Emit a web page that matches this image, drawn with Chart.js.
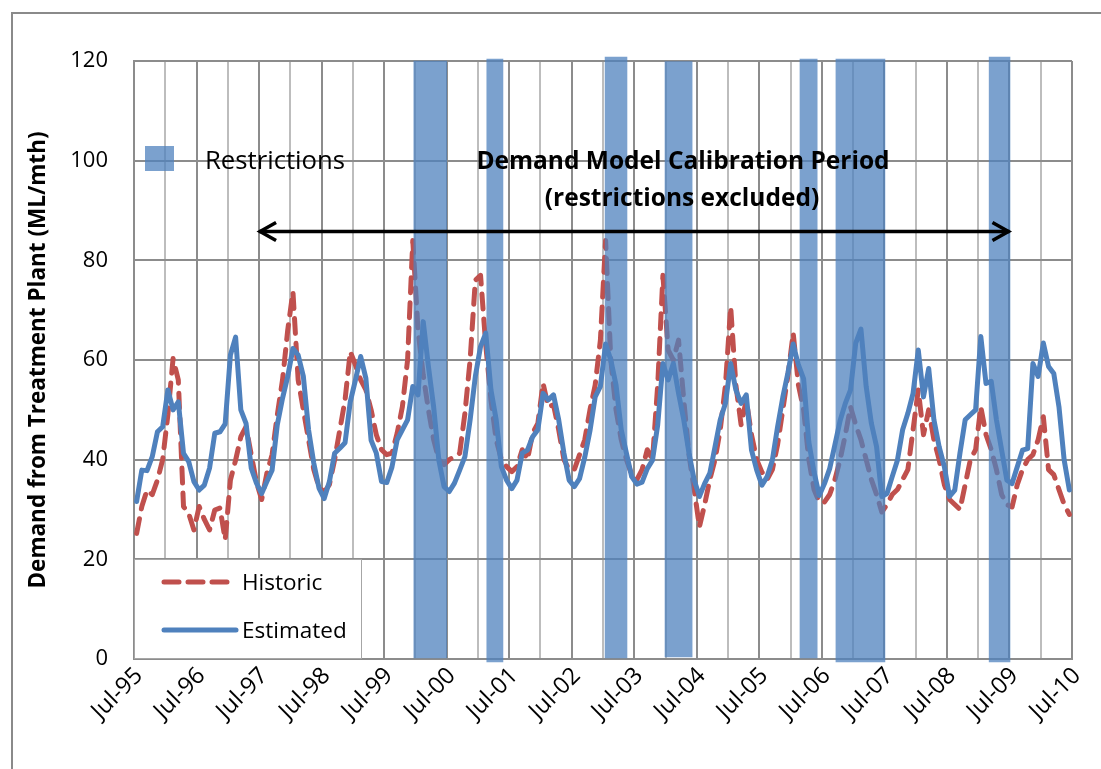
<!DOCTYPE html>
<html>
<head>
<meta charset="utf-8">
<title>Demand Model Calibration</title>
<script src="https://cdn.jsdelivr.net/npm/chart.js@4.4.1/dist/chart.umd.min.js"></script>
<style>
  html, body { margin: 0; padding: 0; background: #fff; }
  #wrap { position: relative; width: 1101px; height: 769px; overflow: hidden; font-family: "Open Sans", sans-serif; }
  #chart { position: absolute; left: 0; top: 0; }
  #frame { position: absolute; left: 11px; top: 12px; width: 1300px; height: 1000px; border: 2px solid #8a8a8a; box-sizing: border-box; pointer-events: none; }
  .txt { position: absolute; white-space: nowrap; color: #000; line-height: 1; }
  .swatch { position: absolute; }
  #lineLegend { position: absolute; left: 134px; top: 559px; width: 228px; height: 100px; background: #fff; border: 1.5px solid #a6a6a6; box-sizing: border-box; }
</style>
</head>
<body>
<div id="wrap">
  <canvas id="chart" width="1101" height="769"></canvas>
  <div id="frame"></div>

  <div class="swatch" style="left:145px;top:146px;width:29px;height:25px;background:rgba(79,129,189,0.75)"></div>
  <div class="txt" style="left:205px;top:160px;font-size:25.7px;transform:translateY(-50%)">Restrictions</div>

  <div class="txt" style="left:683px;top:160px;font-size:24.5px;font-weight:bold;transform:translate(-50%,-50%)">Demand Model Calibration Period</div>
  <div class="txt" style="left:682px;top:197px;font-size:24.5px;font-weight:bold;transform:translate(-50%,-50%)">(restrictions excluded)</div>

  <div id="lineLegend"></div>
  <svg class="swatch" style="left:158px;top:574px" width="80" height="16">
    <line x1="6" y1="8" x2="70" y2="8" stroke="#C0504D" stroke-width="5" stroke-dasharray="15 9" stroke-linecap="round"/>
  </svg>
  <div class="txt" style="left:242px;top:582px;font-size:22.5px;transform:translateY(-50%)">Historic</div>
  <svg class="swatch" style="left:158px;top:622px" width="84" height="16">
    <line x1="6" y1="8" x2="78" y2="8" stroke="#4F81BD" stroke-width="5" stroke-linecap="round"/>
  </svg>
  <div class="txt" style="left:242px;top:630px;font-size:22.5px;transform:translateY(-50%)">Estimated</div>
</div>

<script>
// x axis: months counted from Jul-95; one point per month, plotted mid-month
var tickLabels = ['Jul-95','Jul-96','Jul-97','Jul-98','Jul-99','Jul-00','Jul-01','Jul-02',
                  'Jul-03','Jul-04','Jul-05','Jul-06','Jul-07','Jul-08','Jul-09','Jul-10'];
var yTicks = [0, 20, 40, 60, 80, 100, 120];

// Historic demand (ML/mth), Jul-95 .. Jun-10
var historic = [
  25.2, 30.6, 33.9, 33.0, 35.9, 40.0, 49.0, 60.3, 56.0, 30.6,
  29.2, 25.9, 30.6, 28.0, 25.9, 29.9, 30.3, 23.9, 35.9, 39.9,
  44.6, 46.6, 41.0, 35.5, 32.0, 37.3, 41.0, 49.0, 56.0, 66.0,
  73.7, 56.0, 50.0, 44.0, 38.0, 34.5, 33.5, 35.0, 40.0, 46.0,
  52.0, 61.7, 59.0, 56.0, 54.0, 50.0, 45.0, 42.0, 41.0, 41.3,
  45.3, 50.6, 60.0, 84.0, 66.0, 57.0, 50.0, 44.0, 40.0, 39.0,
  40.0, 40.6, 41.3, 49.3, 60.0, 76.0, 77.0, 63.0, 52.0, 44.0,
  40.0, 38.6, 37.6, 38.6, 42.0, 40.0, 45.3, 47.3, 55.3, 50.6,
  51.0, 46.0, 40.0, 38.0, 38.0, 41.0, 44.0, 50.0, 55.0, 64.0,
  84.0, 60.0, 50.0, 44.0, 40.0, 37.0, 36.0, 38.0, 42.0, 40.0,
  55.0, 77.0, 62.0, 60.0, 64.0, 52.0, 41.0, 34.0, 26.5, 31.0,
  36.0, 40.0, 46.0, 55.0, 70.7, 55.0, 47.0, 52.0, 45.0, 40.0,
  37.5, 36.0, 38.0, 43.0, 50.0, 57.0, 65.4, 55.0, 50.0, 40.0,
  34.0, 31.5, 31.5, 33.0, 36.0, 40.0, 45.0, 50.6, 47.0, 44.0,
  40.0, 36.0, 33.0, 29.5, 31.0, 33.0, 34.0, 36.0, 38.0, 46.0,
  54.0, 45.0, 50.0, 44.0, 40.0, 35.0, 32.0, 31.0, 30.0, 35.0,
  40.0, 42.0, 50.6, 45.0, 42.0, 38.0, 33.0, 31.0, 30.5, 35.0,
  38.0, 40.0, 41.0, 44.0, 48.6, 38.0, 37.0, 34.0, 31.0, 29.0
];

// Estimated demand (ML/mth), Jul-95 .. Jun-10
var estimated = [
  31.6, 37.9, 37.8, 40.6, 45.6, 46.6, 54.0, 50.0, 51.6, 41.3,
  39.6, 35.6, 33.9, 34.9, 38.3, 45.3, 45.6, 47.2, 61.0, 64.6,
  50.0, 47.3, 38.3, 35.3, 33.2, 35.6, 37.9, 47.0, 52.3, 56.7,
  62.3, 61.0, 56.7, 46.0, 39.3, 34.3, 32.2, 35.6, 41.3, 42.3,
  43.4, 51.6, 56.0, 60.7, 56.3, 43.9, 41.3, 35.6, 35.4, 38.5,
  44.0, 46.0, 48.0, 54.7, 53.0, 67.7, 58.7, 50.6, 39.9, 34.6,
  33.6, 35.3, 37.9, 40.6, 48.0, 56.7, 62.7, 65.4, 54.0, 48.0,
  38.6, 35.9, 34.2, 35.9, 41.3, 41.9, 44.6, 46.0, 53.3, 52.0,
  53.0, 48.0, 41.3, 35.9, 34.6, 36.2, 40.5, 45.8, 52.6, 54.7,
  63.2, 60.0, 55.0, 46.0, 41.3, 36.6, 35.1, 35.5, 38.2, 39.9,
  47.0, 59.3, 56.0, 59.3, 53.3, 48.0, 41.3, 35.9, 32.6, 35.2,
  37.3, 42.6, 48.0, 51.3, 59.3, 54.0, 51.3, 53.0, 41.9, 37.9,
  34.9, 36.6, 39.9, 46.6, 52.5, 57.5, 63.2, 59.0, 56.2, 43.5,
  37.5, 32.8, 35.2, 38.2, 43.0, 47.8, 51.3, 54.0, 63.4, 66.2,
  54.7, 47.3, 42.6, 32.6, 33.2, 36.6, 39.9, 46.0, 49.3, 53.3,
  62.0, 52.6, 58.3, 48.0, 42.6, 38.6, 32.6, 33.9, 41.3, 48.0,
  49.0, 50.0, 64.7, 55.3, 55.7, 48.0, 41.9, 35.9, 35.2, 38.6,
  41.9, 42.2, 59.3, 56.7, 63.4, 58.7, 57.3, 50.6, 39.9, 33.9
];

// Restriction periods (months from Jul-95) and their column extent
var restrStart = [53.7, 67.7, 90.4, 101.9, 127.8, 134.7, 164.1];
var restrEnd   = [60.0, 70.8, 94.6, 107.1, 131.1, 144.1, 168.1];
var restrLow   = [0, -0.6, 0, 0.4, 0, -0.6, -0.6];
var restrHigh  = [120, 120.4, 120.8, 119.9, 120.4, 120.4, 120.8];

// Calibration period arrow
var calibStart = 24, calibEnd = 168, calibLevel = 85.8;

var FONT = '"Open Sans", sans-serif';
var BLUE = '#4F81BD', RED = '#C0504D', BAR = 'rgba(79,129,189,0.75)';

var datasets = [];

datasets.push({
  type: 'line', label: 'Calibration', order: 0,
  data: [{x: calibStart, y: calibLevel}, {x: calibEnd, y: calibLevel}],
  borderColor: '#000', borderWidth: 3.5, pointRadius: 0, fill: false
});

restrStart.forEach(function(s, i){
  datasets.push({
    type: 'bar', label: 'Restrictions', order: 1, stack: 'restr',
    data: [{x: (s + restrEnd[i]) / 2, y: [restrLow[i], restrHigh[i]]}],
    backgroundColor: BAR, borderWidth: 0, clip: false,
    barThickness: function(ctx){
      var xs = ctx.chart.scales.x;
      return xs.getPixelForValue(restrEnd[i]) - xs.getPixelForValue(s);
    }
  });
});

datasets.push({
  type: 'line', label: 'Estimated', order: 2,
  data: estimated.map(function(v, i){ return {x: i + 0.5, y: v}; }),
  borderColor: BLUE, borderWidth: 5, pointRadius: 0, tension: 0,
  borderJoinStyle: 'round', borderCapStyle: 'round', fill: false
});

datasets.push({
  type: 'line', label: 'Historic', order: 3,
  data: historic.map(function(v, i){ return {x: i + 0.5, y: v}; }),
  borderColor: RED, borderWidth: 5, pointRadius: 0, tension: 0,
  borderDash: [15, 10], borderJoinStyle: 'round', borderCapStyle: 'round', fill: false
});

var arrowHeads = {
  id: 'arrowHeads',
  afterDatasetsDraw: function(chart){
    var meta = chart.getDatasetMeta(0);
    var a = meta.data[0], b = meta.data[meta.data.length - 1];
    var ctx = chart.ctx;
    ctx.save();
    ctx.strokeStyle = '#000';
    ctx.lineWidth = 3.5;
    ctx.lineJoin = 'miter';
    ctx.beginPath();
    ctx.moveTo(a.x + 17, a.y - 9); ctx.lineTo(a.x + 1, a.y); ctx.lineTo(a.x + 17, a.y + 9);
    ctx.moveTo(b.x - 17, b.y - 9); ctx.lineTo(b.x - 1, b.y); ctx.lineTo(b.x - 17, b.y + 9);
    ctx.stroke();
    ctx.restore();
  }
};

new Chart(document.getElementById('chart').getContext('2d'), {
  data: { datasets: datasets },
  options: {
    responsive: false,
    animation: false,
    devicePixelRatio: 1,
    layout: { padding: { left: 0, top: 61, right: 29, bottom: 0 } },
    plugins: { legend: { display: false }, tooltip: { enabled: false } },
    scales: {
      x: {
        type: 'linear', min: 0, max: 180, offset: false,
        afterBuildTicks: function(s){
          var t = [];
          for (var v = 0; v <= 180; v += 6) t.push({value: v});
          s.ticks = t;
        },
        afterFit: function(s){ s.height = 110; },
        grid: {
          offset: false,
          color: function(c){ return c.tick && c.tick.value % 12 === 0 ? '#8c8c8c' : '#bdbdbd'; },
          lineWidth: 2, drawTicks: false
        },
        border: { color: '#8c8c8c', width: 2 },
        ticks: {
          autoSkip: false, maxRotation: 45, minRotation: 45, padding: 3, labelOffset: 5, color: '#000',
          font: { family: FONT, size: 23.5 },
          callback: function(v){ return v % 12 === 0 ? tickLabels[v / 12] : ''; }
        }
      },
      y: {
        min: 0, max: 120, stacked: false,
        afterBuildTicks: function(s){ s.ticks = yTicks.map(function(v){ return {value: v}; }); },
        afterFit: function(s){ s.width = 134; },
        grid: { color: '#8c8c8c', lineWidth: 2, drawTicks: false },
        border: { color: '#8c8c8c', width: 2 },
        ticks: { padding: 26, color: '#000', font: { family: FONT, size: 22 } },
        title: {
          display: true, text: 'Demand from Treatment Plant (ML/mth)', color: '#000',
          font: { family: FONT, size: 22.5, weight: 'bold' }, padding: { top: 25, bottom: 0 }
        }
      }
    }
  },
  plugins: [arrowHeads]
});
</script>
</body>
</html>
